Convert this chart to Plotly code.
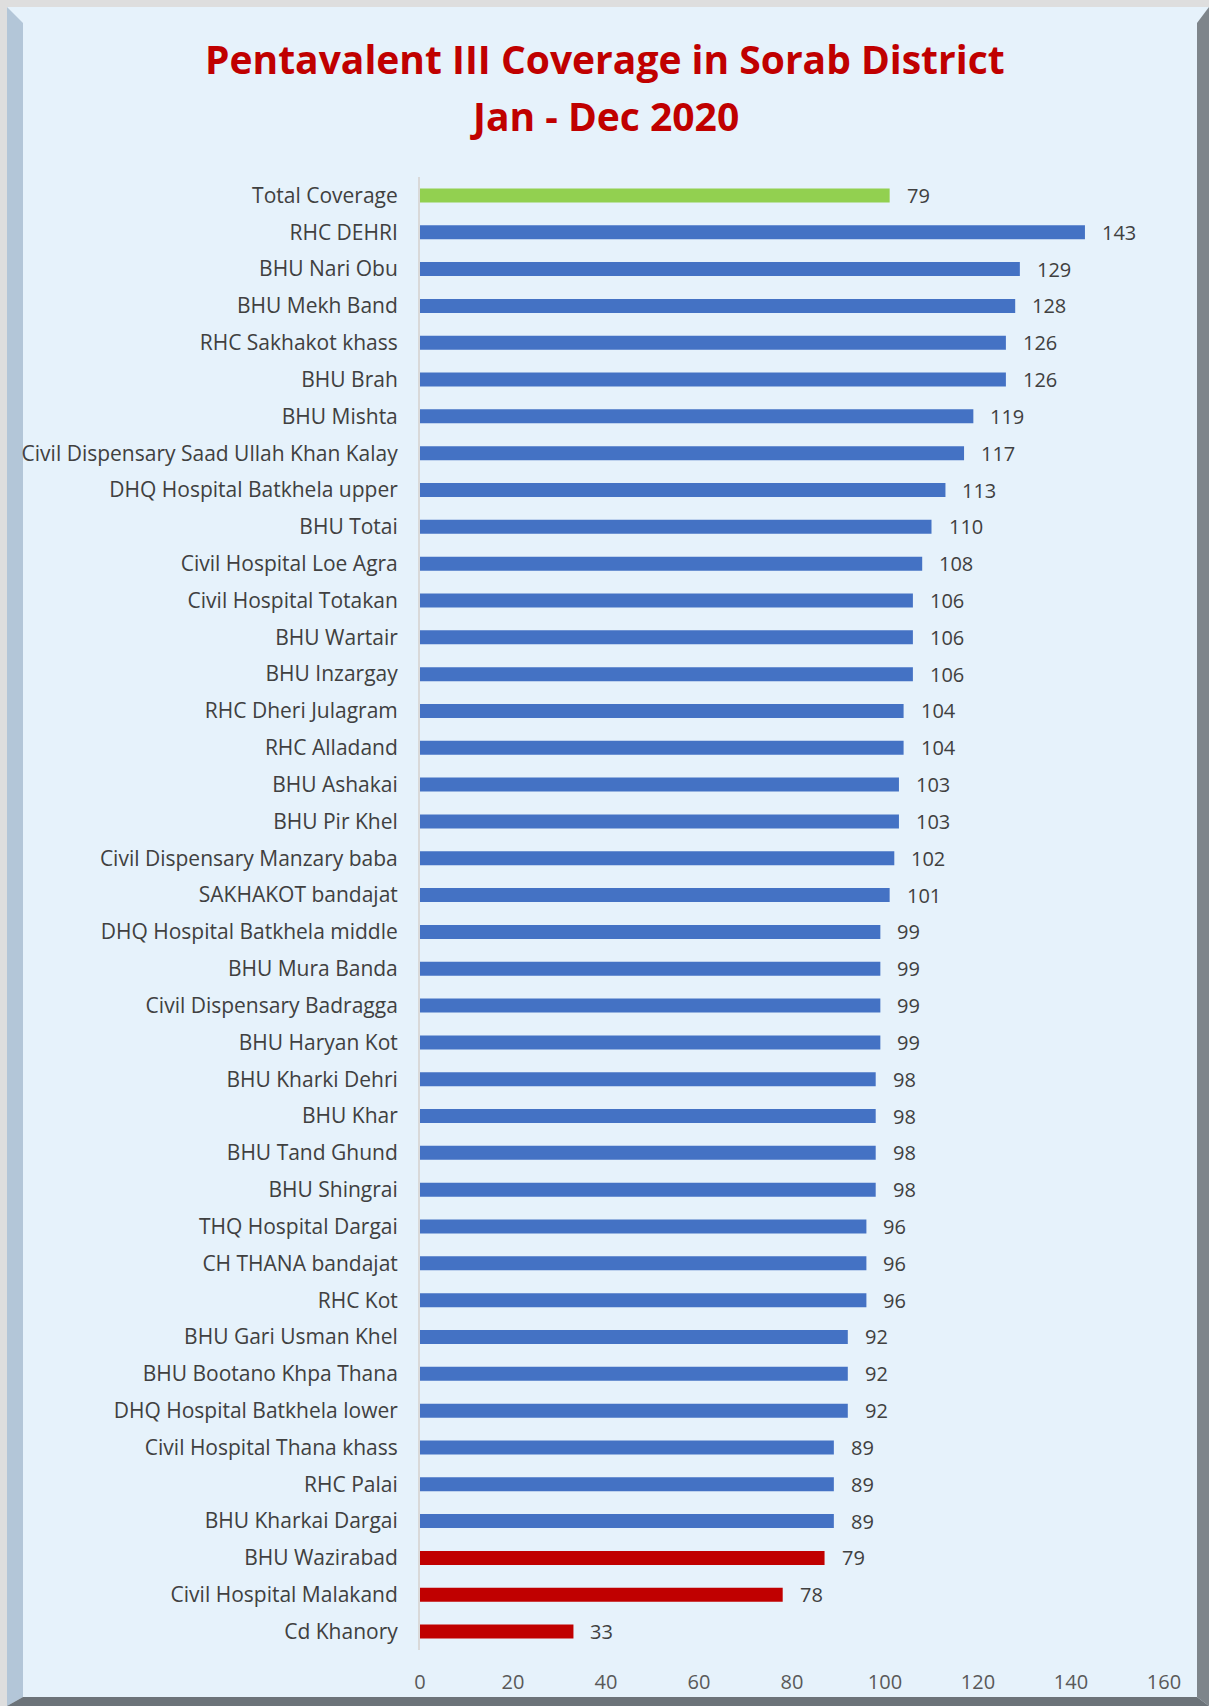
import plotly.graph_objects as go

facilities = ["Total Coverage", "RHC DEHRI", "BHU Nari Obu", "BHU Mekh Band", "RHC Sakhakot khass",
              "BHU Brah", "BHU Mishta", "Civil Dispensary Saad Ullah Khan Kalay",
              "DHQ Hospital Batkhela upper", "BHU Totai", "Civil Hospital Loe Agra",
              "Civil Hospital Totakan", "BHU Wartair", "BHU Inzargay", "RHC Dheri Julagram",
              "RHC Alladand", "BHU Ashakai", "BHU Pir Khel", "Civil Dispensary Manzary baba",
              "SAKHAKOT bandajat", "DHQ Hospital Batkhela middle", "BHU Mura Banda",
              "Civil Dispensary Badragga", "BHU Haryan Kot", "BHU Kharki Dehri", "BHU Khar",
              "BHU Tand Ghund", "BHU Shingrai", "THQ Hospital Dargai", "CH THANA bandajat",
              "RHC Kot", "BHU Gari Usman Khel", "BHU Bootano Khpa Thana",
              "DHQ Hospital Batkhela lower", "Civil Hospital Thana khass", "RHC Palai",
              "BHU Kharkai Dargai", "BHU Wazirabad", "Civil Hospital Malakand", "Cd Khanory"]

# bar lengths as drawn in the picture
bar_lengths = [101, 143, 129, 128, 126, 126, 119, 117, 113, 110, 108, 106, 106, 106, 104, 104,
               103, 103, 102, 101, 99, 99, 99, 99, 98, 98, 98, 98, 96, 96, 96, 92, 92, 92,
               89, 89, 89, 87, 78, 33]
# data labels as printed
data_labels = [79, 143, 129, 128, 126, 126, 119, 117, 113, 110, 108, 106, 106, 106, 104, 104,
               103, 103, 102, 101, 99, 99, 99, 99, 98, 98, 98, 98, 96, 96, 96, 92, 92, 92,
               89, 89, 89, 79, 78, 33]
groups = ["total"] + ["ok"] * 36 + ["low"] * 3

x_ticks = [0, 20, 40, 60, 80, 100, 120, 140, 160]

group_colors = {"total": "#92D050", "ok": "#4472C4", "low": "#C00000"}
bar_colors = [group_colors[g] for g in groups]

W, H = 1209, 1706
L, R, T, B = 420, 45, 177, 56
pw, ph = W - L - R, H - T - B

FONT = "'Open Sans', sans-serif"

fig = go.Figure()
fig.add_trace(go.Bar(
    x=bar_lengths, y=facilities, orientation="h",
    marker=dict(color=bar_colors, line=dict(width=0)),
    hoverinfo="x+y", showlegend=False,
))

for name, v, lab in zip(facilities, bar_lengths, data_labels):
    fig.add_annotation(x=v, y=name, text=str(lab), showarrow=False,
                       xanchor="left", yanchor="middle", xshift=15,
                       font=dict(family=FONT, size=20, color="#404040"))

# title
fig.add_annotation(text="<b>Pentavalent III Coverage in Sorab District</b>",
                   xref="paper", yref="paper", x=(W / 2 - L) / pw, y=1 + (T - 58) / ph,
                   showarrow=False, xanchor="center", yanchor="middle",
                   font=dict(family=FONT, size=39, color="#C00000"))
fig.add_annotation(text="<b>Jan - Dec 2020</b>",
                   xref="paper", yref="paper", x=(W / 2 - L) / pw, y=1 + (T - 116) / ph,
                   showarrow=False, xanchor="center", yanchor="middle",
                   font=dict(family=FONT, size=39, color="#C00000"))

def px_x(p):
    return (p - L) / pw

def px_y(p):
    return 1 - (p - T) / ph

shapes = []
shapes.append(dict(type="rect", xref="paper", yref="paper", x0=px_x(0), x1=px_x(W), y0=px_y(0), y1=px_y(7),
                   fillcolor="#dedede", line=dict(width=0), layer="below"))
shapes.append(dict(type="rect", xref="paper", yref="paper", x0=px_x(0), x1=px_x(7), y0=px_y(0), y1=px_y(H),
                   fillcolor="#dedede", line=dict(width=0), layer="below"))
shapes.append(dict(type="path", xref="paper", yref="paper",
                   path=f"M {px_x(7)},{px_y(7)} L {px_x(23)},{px_y(23)} L {px_x(23)},{px_y(1697)} L {px_x(7)},{px_y(H)} Z",
                   fillcolor="#b3c6d8", line=dict(width=0), layer="below"))
shapes.append(dict(type="path", xref="paper", yref="paper",
                   path=f"M {px_x(W)},{px_y(7)} L {px_x(1197)},{px_y(23)} L {px_x(1197)},{px_y(1697)} L {px_x(W)},{px_y(H)} Z",
                   fillcolor="#7e858b", line=dict(width=0), layer="below"))
shapes.append(dict(type="path", xref="paper", yref="paper",
                   path=f"M {px_x(7)},{px_y(H)} L {px_x(23)},{px_y(1697)} L {px_x(1197)},{px_y(1697)} L {px_x(W)},{px_y(H)} Z",
                   fillcolor="#6c7379", line=dict(width=0), layer="below"))

fig.update_layout(
    width=W, height=H,
    margin=dict(l=L, r=R, t=T, b=B, pad=0),
    paper_bgcolor="#e6f2fb", plot_bgcolor="rgba(0,0,0,0)",
    bargap=0.62,
    shapes=shapes,
    font=dict(family=FONT, color="#404040"),
    xaxis=dict(range=[0, 160], tickvals=x_ticks, showgrid=False, zeroline=False,
               showline=False, ticks="", ticklabelstandoff=18,
               tickfont=dict(family=FONT, size=20, color="#595959"), fixedrange=True),
    yaxis=dict(autorange="reversed", showgrid=False, zeroline=False, showline=True,
               linecolor="#d9d9d9", linewidth=2, ticks="", ticklabelstandoff=16,
               tickfont=dict(family=FONT, size=21, color="#404040"), fixedrange=True),
)

fig.write_html("out.html", config={"displayModeBar": False},
               post_script="document.body.style.margin='0';document.body.style.overflow='hidden';")
